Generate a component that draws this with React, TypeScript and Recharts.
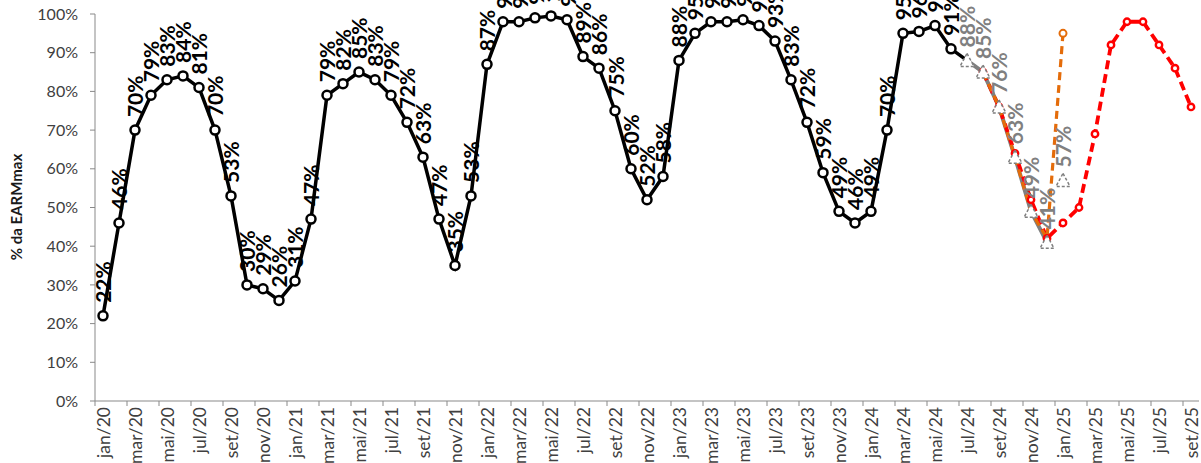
import React from "react";
import { ComposedChart, Line, LabelList, XAxis, YAxis } from "recharts";

// monthly axis, jan/20 .. set/25
const months = [
  "jan/20", "fev/20", "mar/20", "abr/20", "mai/20", "jun/20", "jul/20", "ago/20", "set/20", "out/20", "nov/20", "dez/20",
  "jan/21", "fev/21", "mar/21", "abr/21", "mai/21", "jun/21", "jul/21", "ago/21", "set/21", "out/21", "nov/21", "dez/21",
  "jan/22", "fev/22", "mar/22", "abr/22", "mai/22", "jun/22", "jul/22", "ago/22", "set/22", "out/22", "nov/22", "dez/22",
  "jan/23", "fev/23", "mar/23", "abr/23", "mai/23", "jun/23", "jul/23", "ago/23", "set/23", "out/23", "nov/23", "dez/23",
  "jan/24", "fev/24", "mar/24", "abr/24", "mai/24", "jun/24", "jul/24", "ago/24", "set/24", "out/24", "nov/24", "dez/24",
  "jan/25", "fev/25", "mar/25", "abr/25", "mai/25", "jun/25", "jul/25", "ago/25", "set/25",
];

// verified storage (% EARMmax), jan/20 .. jul/24
const verified = [
  22, 46, 70, 79, 83, 84, 81, 70, 53, 30, 29, 26,
  31, 47, 79, 82, 85, 83, 79, 72, 63, 47, 35, 53,
  87, 98, 98, 99, 99.5, 98.5, 89, 86, 75, 60, 52, 58,
  88, 95, 98, 98, 98.5, 97, 93, 83, 72, 59, 49, 46,
  49, 70, 95, 95.5, 97, 91, 88,
];

// gray triangles, jul/24 .. jan/25
const grayStart = 54;
const grayPoints = [88, 85, 76, 63, 49, 41, 57];
// gray line only runs to dez/24
const grayLineLen = 6;

// orange dashed, ago/24 .. jan/25
const orangeStart = 55;
const orangeVals = [85, 76, 63, 49, 42, 95];

// red dashed, ago/24 .. set/25
const redStart = 55;
const redVals = [85, 76, 64, 52, 42, 46, 50, 69, 92, 98, 98, 92, 86, 76];

const yTicks = [0, 10, 20, 30, 40, 50, 60, 70, 80, 90, 100];

const pick = (arr: number[], start: number, i: number, len = arr.length) =>
  i >= start && i < start + len ? arr[i - start] : null;

const data = months.map((m, i) => ({
  m,
  hist: i < verified.length ? verified[i] : null,
  grayLine: pick(grayPoints, grayStart, i, grayLineLen),
  grayTri: pick(grayPoints, grayStart, i),
  orange: pick(orangeVals, orangeStart, i),
  red: pick(redVals, redStart, i),
}));

const FONT = "Lato, 'Open Sans', sans-serif";

function rotLabel(color: string, weight: number, skip?: number) {
  return (p: any) => {
    const { x, y, value, index } = p;
    if (value == null || x == null || y == null || index === skip) return null;
    const ty = y - 13;
    return (
      <text
        x={x}
        y={ty}
        transform={`rotate(-90, ${x}, ${ty})`}
        textAnchor="start"
        dominantBaseline="central"
        fontSize={21}
        fontWeight={weight}
        fill={color}
        fontFamily={FONT}
      >
        {`${Math.round(value)}%`}
      </text>
    );
  };
}

const XTick = (props: any) => {
  const { x, y, payload } = props;
  return (
    <g>
      <line x1={x - 8} x2={x - 8} y1={y - 5} y2={y} stroke="#898989" strokeWidth={1} />
      <text
        x={x}
        y={y + 1}
        transform={`rotate(-90, ${x}, ${y + 1})`}
        textAnchor="end"
        dominantBaseline="central"
        fontSize={17.5}
        fill="#404040"
        fontFamily={FONT}
      >
        {payload.value}
      </text>
    </g>
  );
};

export default function App() {
  return (
    <div style={{ position: "relative", width: 1201, height: 463, fontFamily: FONT, background: "#fff" }}>
      <style>{"body{margin:0}"}</style>
      <ComposedChart width={1201} height={463} data={data} margin={{ top: 14, right: 2, left: 0, bottom: 0 }}>
        <XAxis
          dataKey="m"
          interval={1}
          height={62}
          padding={{ left: 8, right: 8 }}
          tickSize={5}
          tickMargin={0}
          tickLine={false}
          axisLine={{ stroke: "#898989" }}
          tick={<XTick />}
        />
        <YAxis
          type="number"
          domain={[0, 100]}
          ticks={yTicks}
          width={95}
          tickSize={5}
          tickMargin={12}
          tickFormatter={(v) => `${v}%`}
          tick={{ fontSize: 16, fill: "#404040", fontFamily: FONT }}
          axisLine={{ stroke: "#898989" }}
          tickLine={{ stroke: "#898989" }}
        />
        <Line
          dataKey="hist"
          stroke="#000"
          strokeWidth={3.5}
          isAnimationActive={false}
          dot={(p: any) =>
            p.cy == null || p.index === verified.length - 1 ? (
              <g key={`h${p.index}`} />
            ) : (
              <circle key={`h${p.index}`} cx={p.cx} cy={p.cy} r={4.5} fill="#fff" stroke="#000" strokeWidth={2.5} />
            )
          }
        >
          <LabelList dataKey="hist" content={rotLabel("#000", 700, verified.length - 1)} />
        </Line>
        <Line dataKey="grayLine" stroke="#7F7F7F" strokeWidth={4} dot={false} isAnimationActive={false} />
        <Line
          dataKey="red"
          stroke="#FF0000"
          strokeWidth={3.8}
          strokeDasharray="9 5"
          isAnimationActive={false}
          dot={(p: any) =>
            p.cy == null ? (
              <g key={`r${p.index}`} />
            ) : (
              <circle key={`r${p.index}`} cx={p.cx} cy={p.cy} r={3.2} fill="#fff" stroke="#FF0000" strokeWidth={2.4} />
            )
          }
        />
        <Line
          dataKey="orange"
          stroke="#E46C0A"
          strokeWidth={3.2}
          strokeDasharray="8 5"
          isAnimationActive={false}
          dot={(p: any) =>
            p.cy == null || p.index !== orangeStart + orangeVals.length - 1 ? (
              <g key={`o${p.index}`} />
            ) : (
              <circle key={`o${p.index}`} cx={p.cx} cy={p.cy} r={3.5} fill="#fff" stroke="#E46C0A" strokeWidth={2} />
            )
          }
        />
        <Line
          dataKey="grayTri"
          stroke="none"
          isAnimationActive={false}
          dot={(p: any) =>
            p.cy == null ? (
              <g key={`t${p.index}`} />
            ) : (
              <polygon
                key={`t${p.index}`}
                points={`${p.cx},${p.cy - 7} ${p.cx + 7},${p.cy + 6} ${p.cx - 7},${p.cy + 6}`}
                fill="#fff"
                stroke="#7F7F7F"
                strokeWidth={1.5}
                strokeDasharray="3 2"
              />
            )
          }
        >
          <LabelList dataKey="grayTri" content={rotLabel("#808080", 700)} />
        </Line>
      </ComposedChart>
      <div
        style={{
          position: "absolute",
          left: 16 - 100,
          top: 207 - 10,
          width: 200,
          height: 20,
          lineHeight: "20px",
          textAlign: "center",
          transform: "rotate(-90deg)",
          fontWeight: 700,
          fontSize: 15,
          color: "#1a1a1a",
        }}
      >
        % da EARMmax
      </div>
    </div>
  );
}
